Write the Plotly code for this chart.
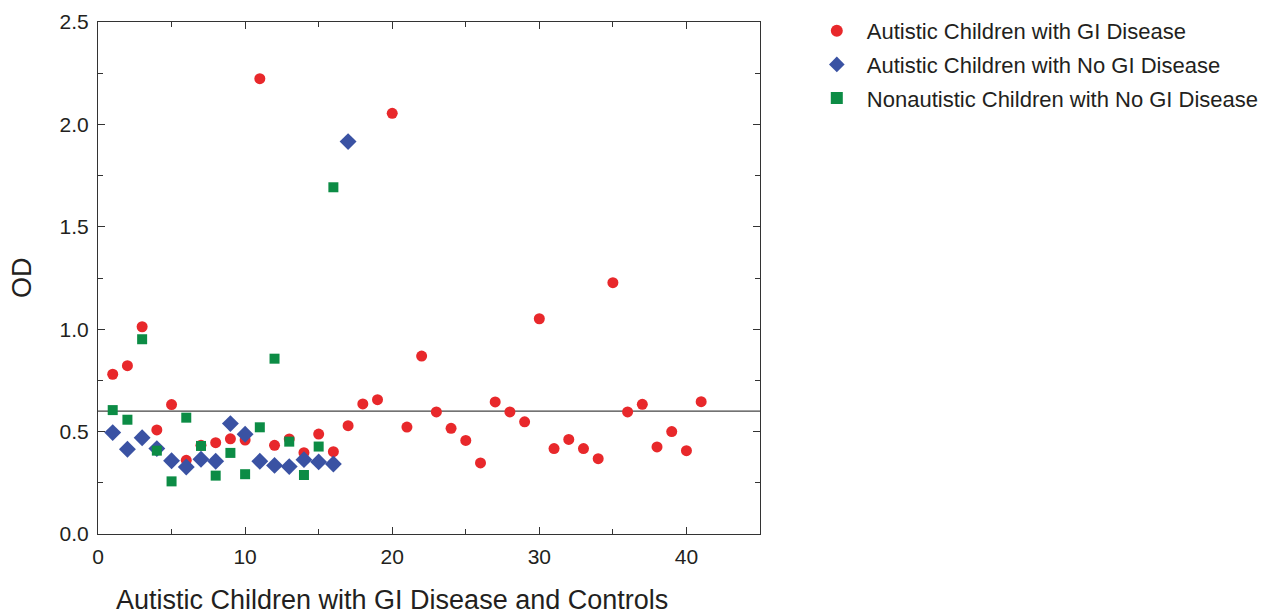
import plotly.graph_objects as go

gi_x = list(range(1, 42))
gi_y = [0.780, 0.822, 1.012, 0.508, 0.632, 0.360, 0.433, 0.446, 0.465, 0.459,
        2.223, 0.433, 0.464, 0.397, 0.488, 0.402, 0.529, 0.635, 0.656, 2.054,
        0.522, 0.869, 0.596, 0.516, 0.457, 0.347, 0.645, 0.596, 0.548, 1.051,
        0.417, 0.462, 0.417, 0.368, 1.227, 0.596, 0.633, 0.425, 0.500, 0.407,
        0.646]

nogi_x = list(range(1, 18))
nogi_y = [0.495, 0.414, 0.470, 0.417, 0.358, 0.327, 0.365, 0.355, 0.539, 0.487,
          0.355, 0.335, 0.329, 0.363, 0.352, 0.342, 1.916]

ctrl_x = list(range(1, 17))
ctrl_y = [0.605, 0.558, 0.951, 0.407, 0.257, 0.568, 0.430, 0.285, 0.396, 0.292,
          0.521, 0.856, 0.451, 0.288, 0.427, 1.693]

cutoff = 0.6

x_ticks = [0, 10, 20, 30, 40]
y_ticks = [0, 0.5, 1.0, 1.5, 2.0, 2.5]
y_tick_text = ["0.0", "0.5", "1.0", "1.5", "2.0", "2.5"]

names = ["Autistic Children with GI Disease",
         "Autistic Children with No GI Disease",
         "Nonautistic Children with No GI Disease"]
x_title = "Autistic Children with GI Disease and Controls"
y_title = "OD"

FONT = "Liberation Sans, Arial, sans-serif"
TXT = "#231f20"

fig = go.Figure()
fig.add_trace(go.Scatter(x=gi_x, y=gi_y, mode="markers", name=names[0], legendgroup="g1",
                         marker=dict(symbol="circle", size=11, color="#E8282B")))
fig.add_trace(go.Scatter(x=nogi_x, y=nogi_y, mode="markers", name=names[1], legendgroup="g2",
                         marker=dict(symbol="diamond", size=13, color="#3A52A3")))
fig.add_trace(go.Scatter(x=ctrl_x, y=ctrl_y, mode="markers", name=names[2], legendgroup="g3",
                         marker=dict(symbol="square", size=10, color="#0C8C45")))

fig.add_shape(type="line", xref="paper", x0=0, x1=1, yref="y", y0=cutoff, y1=cutoff,
              line=dict(color="#444444", width=1.2), layer="below")

axis_common = dict(showline=True, linecolor="#333333", linewidth=1, mirror="allticks",
                   ticks="inside", ticklen=7, tickcolor="#333333", showgrid=False,
                   zeroline=False, ticklabelstandoff=4,
                   tickfont=dict(family=FONT, size=21, color=TXT))

fig.update_xaxes(range=[0, 45], tickmode="array", tickvals=x_ticks,
                 minor=dict(tickvals=[5, 15, 25, 35], ticks="inside", ticklen=5,
                            tickcolor="#333333"),
                 **axis_common)
fig.update_yaxes(range=[0, 2.5], tickmode="array", tickvals=y_ticks, ticktext=y_tick_text,
                 minor=dict(tickvals=[0.25, 0.75, 1.25, 1.75, 2.25], ticks="inside",
                            ticklen=5, tickcolor="#333333"),
                 **axis_common)

fig.add_annotation(text=x_title, xref="paper", yref="paper", x=0.444, y=-0.129,
                   xanchor="center", yanchor="middle", showarrow=False,
                   font=dict(family=FONT, size=27, color=TXT))
fig.add_annotation(text=y_title, xref="paper", yref="paper", x=-0.1148, y=0.5,
                   xanchor="center", yanchor="middle", showarrow=False, textangle=-90,
                   font=dict(family=FONT, size=27, color=TXT))

fig.update_layout(
    width=1259, height=606,
    margin=dict(l=90, r=507, t=14, b=80, autoexpand=False),
    plot_bgcolor="white", paper_bgcolor="white",
    legend=dict(x=1.0707, y=1.0234, xanchor="left", yanchor="top",
                font=dict(family=FONT, size=22, color=TXT), itemwidth=50,
                tracegroupgap=2, itemsizing="constant", bgcolor="rgba(0,0,0,0)"),
    font=dict(family=FONT),
)

fig.write_html("out.html")
